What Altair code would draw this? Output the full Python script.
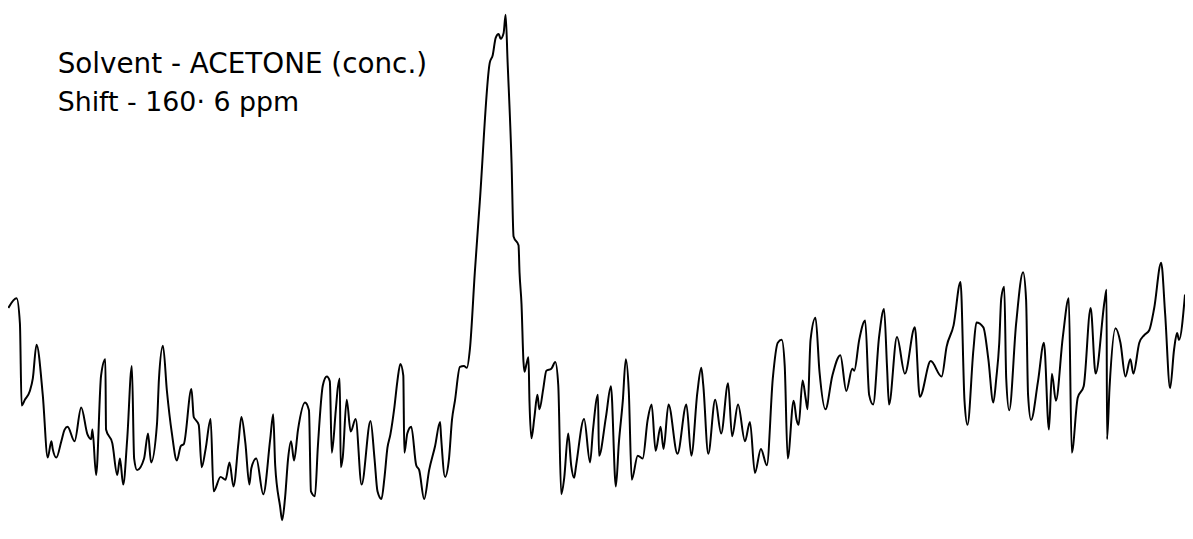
import altair as alt
import pandas as pd

# Recorder trace: horizontal position along the sweep
sweep = [8.3, 16.7, 20, 21.7, 25, 30, 33, 36.7, 43, 48, 51.7, 53, 56.7, 61.7, 65, 68, 75, 81.7, 88, 91.7,
         93, 96.7, 101.7, 106, 106.7, 113, 118, 120.7, 124, 128, 132.7, 135, 138, 145, 149, 152, 158, 160, 164, 168,
         173, 178, 182, 185, 192.7, 195, 197, 200, 203, 207, 212, 215, 222, 227, 231, 235, 240, 243, 247, 251,
         253, 258, 265, 272, 275, 277, 282, 284, 287, 290, 293, 296, 300, 307, 311, 313, 317, 320, 325, 329,
         332, 334, 338, 340, 342, 343, 345, 349, 353, 358, 364, 373, 377, 380, 384, 387, 390, 393, 397, 400,
         403, 406, 407, 410, 414, 419, 422, 427, 432, 438, 443, 444, 448, 452, 455, 458, 463, 467, 470, 473,
         478, 483, 493, 496, 499, 502, 504, 507, 509, 511, 515, 517, 522, 523, 525, 527, 528, 530, 532, 533,
         535, 538, 541, 543, 547, 550, 555, 559, 562, 565, 568, 572, 575, 578, 580, 588, 594, 597, 602, 603,
         610, 615, 620, 623, 627, 630, 633, 636, 642, 647, 652, 656, 660, 665, 668, 673, 682, 691, 696, 702,
         706, 708, 713, 720, 726, 733, 737, 743, 750, 755, 760, 766, 772, 778, 783, 787, 790, 793, 799, 802,
         804, 808, 811, 813, 816, 821, 825, 831, 838, 846, 852, 858, 860, 865, 871, 875, 879, 885, 890, 893,
         895, 903, 911, 921, 926, 937, 948, 953, 960, 967, 971, 974, 980, 983, 990, 995, 1000, 1003, 1006, 1008,
         1011, 1013, 1016, 1023, 1030, 1033, 1035, 1038, 1045, 1051, 1056, 1059, 1063, 1070, 1076, 1079, 1085, 1091, 1098, 1103,
         1112, 1114, 1114.5, 1117, 1123, 1128, 1133, 1138, 1141, 1147, 1152, 1157, 1162, 1169, 1173, 1178, 1182, 1185, 1187, 1193]

# Pen deflection measured downward from the top of the chart paper
deflection = [317, 307, 333, 418, 412, 403, 390, 355, 407, 472, 455, 463, 472, 455, 443, 440, 455, 420, 448, 453,
              443, 490, 387, 370, 443, 457, 490, 473, 500, 453, 377, 473, 485, 473, 447, 477, 437, 390, 356, 403,
              447, 475, 460, 458, 401, 430, 433, 438, 482, 463, 432, 507, 492, 495, 477, 502, 457, 430, 457, 500,
              483, 473, 510, 453, 427, 480, 523, 537, 513, 473, 455, 475, 443, 415, 423, 507, 512, 460, 397, 388,
              393, 467, 423, 400, 390, 482, 472, 412, 445, 432, 500, 434, 473, 507, 515, 493, 462, 448, 420, 393,
              375, 387, 467, 447, 440, 480, 485, 515, 485, 460, 435, 450, 492, 473, 433, 413, 378, 377, 379, 360,
              280, 207, 63, 55, 37, 33, 38, 32, 13, 62, 167, 243, 252, 280, 313, 373, 383, 375, 368, 413,
              452, 430, 407, 422, 400, 382, 380, 373, 397, 510, 493, 447, 480, 493, 480, 432, 477, 443, 407, 470,
              430, 398, 502, 457, 413, 370, 403, 495, 470, 473, 433, 417, 465, 440, 463, 417, 468, 417, 470, 405,
              379, 397, 468, 412, 447, 395, 450, 417, 455, 435, 488, 463, 480, 390, 353, 350, 377, 473, 413, 433,
              438, 392, 410, 422, 350, 327, 383, 422, 387, 366, 403, 380, 382, 350, 330, 407, 417, 347, 318, 378,
              417, 347, 385, 337, 409, 372, 388, 357, 335, 290, 413, 438, 360, 332, 337, 370, 415, 390, 353, 307,
              295, 390, 423, 333, 280, 308, 407, 433, 393, 353, 443, 385, 413, 347, 307, 467, 410, 398, 317, 385,
              310, 298, 453, 400, 338, 353, 388, 370, 385, 353, 345, 340, 317, 270, 323, 400, 360, 343, 350, 303]

label_solvent = "Solvent - ACETONE (conc.)"
label_shift = "Shift - 160· 6 ppm"

df = pd.DataFrame({"sweep": sweep, "deflection": deflection, "step": list(range(len(sweep)))})

trace = alt.Chart(df).mark_line(color="black", strokeWidth=2, strokeJoin="round",
                                interpolate="monotone").encode(
    x=alt.X("sweep:Q", axis=None, scale=alt.Scale(domain=[8, 1193], nice=False, zero=False)),
    y=alt.Y("deflection:Q", axis=None,
            scale=alt.Scale(domain=[7.9, 538], nice=False, zero=False, reverse=True)),
    order="step:O",
)

text1 = alt.Chart(pd.DataFrame({"t": [label_solvent]})).mark_text(
    align="left", baseline="alphabetic", font="DejaVu Sans", fontSize=28, color="black"
).encode(x=alt.value(50), y=alt.value(64), text="t:N")

text2 = alt.Chart(pd.DataFrame({"t": [label_shift]})).mark_text(
    align="left", baseline="alphabetic", font="DejaVu Sans", fontSize=27, color="black"
).encode(x=alt.value(50), y=alt.value(102), text="t:N")

chart = alt.layer(trace, text1, text2).properties(
    width=1185, height=515, padding=0, autosize=alt.AutoSizeParams(type="none"),
    background="white",
).configure_view(stroke=None)

chart.save("out.html", embed_options={"renderer": "svg", "actions": False})
